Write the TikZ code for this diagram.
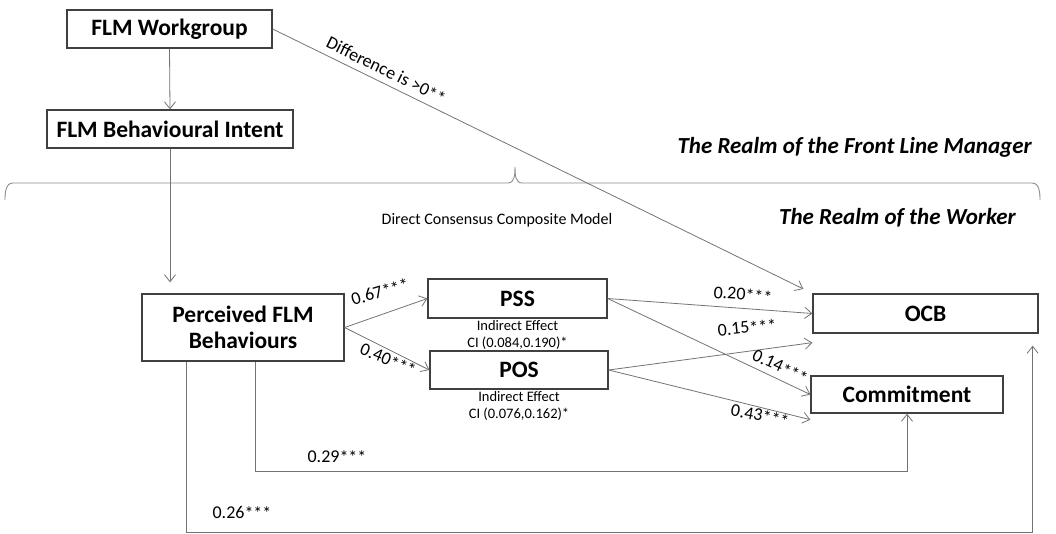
\documentclass[tikz,border=0pt]{standalone}
\usepackage{fontspec}
\setmainfont{Carlito}
\usepackage{tikz}
\usetikzlibrary{arrows.meta, positioning, decorations.pathreplacing, calc}

\newcommand{\sig}[1]{\raisebox{-1.5pt}{#1}}

\begin{document}
\begin{tikzpicture}[
    x=1pt, y=-1pt,
    box/.style={draw=black!75, line width=1.3pt, inner sep=2pt, align=center, font=\fontsize{23.5}{26}\selectfont\bfseries},
    arr/.style={-{Straight Barb[length=7pt, width=11pt]}, line width=0.8pt, black!55},
    coef/.style={font=\fontsize{18}{20}\selectfont, inner sep=1pt, text=black},
    note/.style={font=\fontsize{14.5}{16.5}\selectfont, align=center, inner sep=1pt},
    realm/.style={font=\fontsize{23}{26}\selectfont\bfseries\itshape, inner sep=1pt},
]
\useasboundingbox (0,0) rectangle (1056,533);

% FLM side
\node[box, minimum width=205pt, minimum height=38pt] (WG) at (169.5, 29) {FLM Workgroup};
\node[box, minimum width=246pt, minimum height=38pt] (BI) at (170, 129) {FLM Behavioural Intent};

% brace between the two realms
\draw[black!45, line width=0.9pt] (5,200) to[out=90, in=180] (13,183) -- (508,183)
    to[out=0, in=-90] (515,167) to[out=-90, in=180] (522,183) -- (1032,183) to[out=0, in=90] (1040,200);
\node[realm, anchor=east] (RFLM) at (1033, 147) {The Realm of the Front Line Manager};
\node[realm, anchor=east] (RW) at (1017, 218) {The Realm of the Worker};
\node[font=\fontsize{16}{18}\selectfont] (DCC) at (497, 220) {Direct Consensus Composite Model};

% worker side
\node[box, minimum width=202pt, minimum height=67pt] (PB) at (243, 327.5) {Perceived FLM\\Behaviours};
\node[box, minimum width=179pt, minimum height=39pt] (PSS) at (517.5, 298.5) {PSS};
\node[box, minimum width=178pt, minimum height=38pt] (POS) at (519, 370) {POS};
\node[box, minimum width=225pt, minimum height=39pt] (OCB) at (925.5, 313.5) {OCB};
\node[box, minimum width=192pt, minimum height=37pt] (COM) at (907, 394.5) {Commitment};

\node[note, below=1pt of PSS] (IEpss) {Indirect Effect\\CI (0.084,0.190)*};
\node[note, below=1pt of POS] (IEpos) {Indirect Effect\\CI (0.076,0.162)*};

% loose ends
\coordinate (OCBlow) at ($(OCB.south west)+(0,9)$);
\coordinate (COMlow) at ($(COM.south west)+(0,6)$);
\coordinate (OCBend) at ($(OCB.south east)+(-6,12)$);
\coordinate (PBa) at ($(PB.south west)!0.56!(PB.south east)$);
\coordinate (PBb) at ($(PB.south west)!0.22!(PB.south east)$);

% Arrows
\draw[arr] (WG.south) -- (BI.north);
\draw[arr, shorten >=11pt] (BI.south) -- (BI.south |- PB.north);
\draw[arr, shorten >=10pt] (WG.east) -- node[coef, sloped, above=4pt, pos=0.2] {Difference is >0\sig{**}} (OCB.north west);
\draw[arr] (PB.east) -- (PSS.west);
\draw[arr] (PB.east) -- (POS.west);
\draw[arr] (PSS.east) -- (OCB.west);
\draw[arr] (PSS.east) -- (COM.west);
\draw[arr] (POS.east) -- (OCBlow);
\draw[arr] (POS.east) -- (COMlow);
\draw[arr] (PBa) -- ++(0,110) -| (COM.south);
\draw[arr] (PBb) -- ++(0,171) -| (OCBend);

% coefficients
\node[coef, rotate=17] (c67) at (380, 292) {0.67\sig{***}};
\node[coef, rotate=-22] (c40) at (388, 360) {0.40\sig{***}};
\node[coef, rotate=-4] (c20) at (743, 295) {0.20\sig{***}};
\node[coef, rotate=6] (c15) at (747, 328) {0.15\sig{***}};
\node[coef, rotate=-25] (c14) at (780, 367) {0.14\sig{***}};
\node[coef, rotate=-10] (c43) at (760, 416) {0.43\sig{***}};
\node[coef] (c29) at (337, 457) {0.29\sig{***}};
\node[coef] (c26) at (242, 513) {0.26\sig{***}};

\end{tikzpicture}
\end{document}
